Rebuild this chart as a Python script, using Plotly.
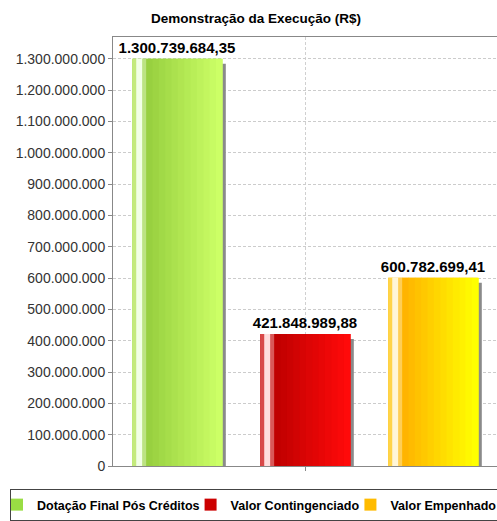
import plotly.graph_objects as go

categories = ["Dotação Final Pós Créditos", "Valor Contingenciado", "Valor Empenhado"]
values = [1300739684.35, 421848989.88, 600782699.41]
yticks = [i * 100000000 for i in range(14)]

legend_colors = ["#99dd44", "#cc0000", "#ffbb00"]
dark_colors = ["#98d040", "#c00000", "#ffb400"]
light_colors = ["#ccff66", "#ff0a0a", "#ffff00"]
edge_colors = ["#c4ea7c", "#d84848", "#ffd448"]
shine_colors = ["#f2ffe6", "#ffdcdc", "#fff6d8"]

FONT = "Liberation Sans, Arial, sans-serif"
FIG_W, VIEW_W, H = 560, 497, 521
L, T, B = 113, 37, 54
W = 0.7            # bar width in category units
PX = 1 / 128       # one pixel in category units
YPX = 1.37e9 / 430 # one pixel in value units
XMAX = 2.5 + (FIG_W - VIEW_W) / 128  # plot area continues past the visible window


def hexmix(a, b, t):
    a = [int(a[i:i + 2], 16) for i in (1, 3, 5)]
    b = [int(b[i:i + 2], 16) for i in (1, 3, 5)]
    return "#" + "".join(f"{round(x + (y - x) * t):02x}" for x, y in zip(a, b))


fig = go.Figure()

# drop shadow
fig.add_bar(x=categories, y=values, base=[-5 * YPX] * 3, width=W, offset=-W / 2 + 4 * PX,
            marker=dict(color="#8a8a8a", line_width=0), showlegend=False, hoverinfo="skip")

# main bars (legend + labels)
for i, c in enumerate(categories):
    fig.add_bar(x=[c], y=[values[i]], name=c, width=W, offset=-W / 2,
                marker=dict(color=legend_colors[i], line_width=0),
                text=[values[i]], texttemplate="%{y:,.2f}", textposition="outside",
                constraintext="none",
                textfont=dict(family=FONT, size=15, color="#000000", weight="bold"),
                cliponaxis=False)


def slice_bar(x0, x1, colors):
    fig.add_bar(x=categories, y=values, width=(x1 - x0 + 0.6) * PX, offset=-W / 2 + x0 * PX,
                marker=dict(color=colors, line_width=0), showlegend=False, hoverinfo="skip")


slice_bar(0, 4, edge_colors)
slice_bar(4, 10, shine_colors)
slice_bar(10, 14, [hexmix(s, d, 0.6) for s, d in zip(shine_colors, dark_colors)])
N = 12
start, end = 14, 90
step = (end - start) / N
for k in range(N):
    t = k / (N - 1)
    slice_bar(start + k * step, start + (k + 1) * step,
              [hexmix(d, l, t) for d, l in zip(dark_colors, light_colors)])

plot_w = FIG_W - L
fig.update_layout(
    width=FIG_W, height=H,
    margin=dict(l=L, r=0, t=T, b=B),
    barmode="overlay",
    paper_bgcolor="white", plot_bgcolor="white",
    separators=",.",
    font=dict(family=FONT, color="#333333"),
    title=dict(text="Demonstração da Execução (R$)", x=256 / FIG_W, xanchor="center",
               y=1 - 18 / H, yanchor="middle", yref="container",
               font=dict(family=FONT, size=13.5, color="#000000", weight="bold")),
    showlegend=True,
    legend=dict(orientation="h", x=(10 - L) / plot_w, xanchor="left",
                y=-23 / (H - T - B), yanchor="top", bordercolor="#444444", borderwidth=1,
                font=dict(family=FONT, size=12.5, color="#000000", weight="bold"),
                itemwidth=30, indentation=-14, traceorder="normal"),
    xaxis=dict(type="category", range=[-0.5, XMAX], showline=True, linecolor="#888888",
               mirror=True, tickvals=[categories[1]], ticktext=[""], ticks="outside",
               ticklen=4, tickcolor="#888888", showgrid=True, gridcolor="#d0d0d0",
               griddash="3px,2px", zeroline=False, fixedrange=True, automargin=False),
    yaxis=dict(range=[0, 1.37e9], tickvals=yticks, tickformat=",d", showline=True,
               linecolor="#888888", ticks="outside", ticklen=4, tickcolor="#888888",
               showgrid=True, gridcolor="#cccccc", griddash="3px,2px", zeroline=False,
               automargin=False, tickfont=dict(family=FONT, size=14, color="#333333")),
)

fig.write_html(
    "out.html",
    config={"displayModeBar": False},
    post_script="document.documentElement.style.overflow='hidden';"
                "document.body.style.overflow='hidden';"
                "document.body.style.margin='0';",
)
